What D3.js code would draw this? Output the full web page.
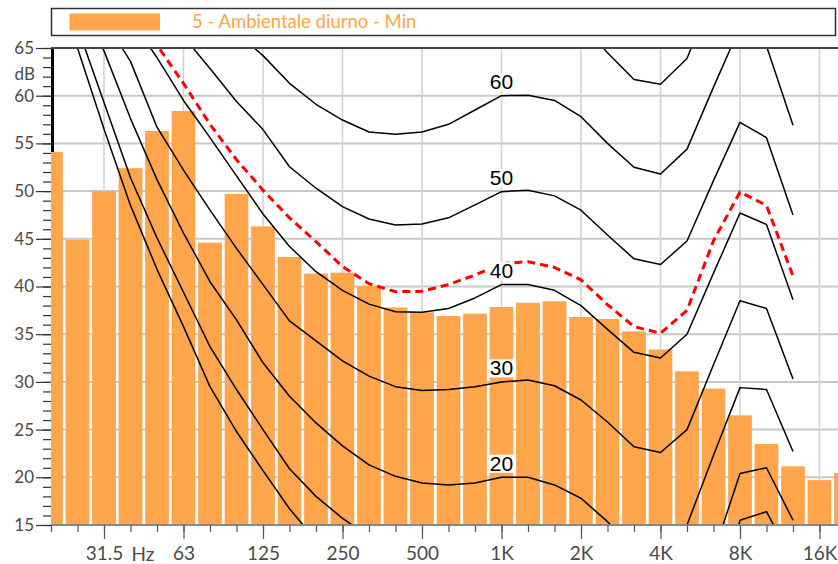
<!DOCTYPE html>
<html>
<head>
<meta charset="utf-8">
<script src="https://cdn.jsdelivr.net/npm/d3@7"></script>
<style>
  html, body { margin: 0; padding: 0; background: #fff; }
  svg text { font-family: Lato, "Open Sans", sans-serif; }
</style>
</head>
<body>
<svg id="chart" width="838" height="564"></svg>
<script>
// Third-octave band centres (nominal labels)
const bands = ["20","25","31.5","40","50","63","80","100","125","160","200","250","315","400","500","630","800",
  "1K","1.25K","1.6K","2K","2.5K","3.15K","4K","5K","6.3K","8K","10K","12.5K","16K","20K"];

// Octave bands that carry a label on the frequency axis
const octaveBands = ["31.5","63","125","250","500","1K","2K","4K","8K","16K"];

// Measured level per band, dB
const levels = [54.1,44.9,50.0,52.4,56.3,58.4,44.6,49.7,46.3,43.1,41.35,41.45,40.05,37.8,37.3,36.9,37.15,
  37.85,38.3,38.45,36.8,36.6,35.3,33.4,31.1,29.3,26.5,23.5,21.15,19.7,20.45];

// Equal-loudness contours, 20 Hz .. 12.5 kHz, dB
const curveBands = bands.slice(0, 29);
const phon0  = [73,65.0,56.5,48.5,41.8,35.8,29.5,24.8,20.7,16.7,13.4,10.8,8.5,6.5,5.0,4.0,3.5,3.5,4.0,3.0,1.0,-1.5,-3.5,-3.5,0,5.0,15.5,16.4,11.2];
const phon10 = [75,67.2,59.3,51.4,45.1,39.4,33.7,29.2,25.0,20.9,18.0,15.7,13.8,12.2,11.0,10.3,10.0,10.0,10.5,9.5,7.5,5.0,3.0,2.8,5.0,12.0,20.4,21.0,15.5];
const phon20 = [78,70.0,64.7,57.6,51.2,45.6,40.5,36.5,32.0,28.5,25.7,23.3,21.3,20.1,19.4,19.2,19.4,20.0,20.0,19.2,17.8,15.35,12.6,12.3,15.0,22.3,29.4,29.2,22.7];
const phon30 = [83,75,68.0,63.6,56.7,52.2,48.0,44.0,40.2,36.4,34.3,32.2,30.6,29.5,29.1,29.2,29.5,30.0,30.2,29.6,28.1,25.8,23.2,22.6,25.0,31.8,38.5,37.7,30.3];
const phon40 = [88,80,73,68,64.0,59.5,55.6,51.6,47.6,44.2,41.55,39.6,38.15,37.35,37.3,37.7,38.8,40.2,40.2,39.6,38.0,35.5,33.1,32.5,35.0,41.4,47.7,46.5,38.6];
const phon50 = [92,86,80,74,69.5,66.2,62.85,59.4,56.45,52.55,50.3,48.37,47.08,46.45,46.55,47.2,48.55,49.94,50.1,49.5,48.0,45.4,42.9,42.3,44.77,51.1,57.2,55.6,47.5];
const phon60 = [97,91,86,80,76,72,69,66.6,64.2,61.3,59.1,57.45,56.2,55.95,56.2,57.0,58.5,60.0,60.05,59.5,57.8,55.0,52.5,51.8,54.4,60.9,67.2,65.2,56.9];
const phon70 = [102,96,91,86,82,79,76.5,74.5,72.5,70.5,68.8,67.4,66.3,66.0,66.2,67.0,68.4,70.0,70.1,69.6,67.6,64.5,61.7,61.2,63.9,70.9,77,75,66.5];

// Loudness-level contour through the measured spectrum
const loudness = [85,80,75,70,65.3,61.3,57.0,53.3,50.1,47.2,44.7,42.1,40.3,39.45,39.5,40.2,41.2,42.4,42.6,42.0,40.7,38.1,35.8,35.1,37.5,44.8,49.9,48.5,41.1];

const contours = [
  {phon: 0,  values: phon0},
  {phon: 10, values: phon10},
  {phon: 20, values: phon20},
  {phon: 30, values: phon30},
  {phon: 40, values: phon40},
  {phon: 50, values: phon50},
  {phon: 60, values: phon60},
  {phon: 70, values: phon70}
];
const labelledPhons = [20, 30, 40, 50, 60];

const legendLabel = "5 - Ambientale diurno - Min";
const ORANGE = "#FFA54C";

(function draw() {
  const svg = d3.select("#chart");
  const pLeft = 51, pTop = 48, pBottom = 525, pRight = 838;

  const x = d3.scalePoint().domain(bands).range([51, 51 + 26.5 * 30]);
  const y = d3.scaleLinear().domain([15, 65]).range([pBottom, pTop]);
  const barW = x.step() * 0.894;

  svg.append("defs").append("clipPath").attr("id", "plot")
    .append("rect").attr("x", pLeft).attr("y", pTop).attr("width", 900 - pLeft).attr("height", pBottom - pTop);

  // Grid
  const grid = svg.append("g");
  grid.selectAll("line.h").data(d3.range(20, 65, 5)).join("line")
    .attr("x1", pLeft).attr("x2", pRight).attr("y1", d => y(d)).attr("y2", d => y(d))
    .attr("stroke", "#c9c9c9").attr("stroke-width", 2);
  grid.selectAll("line.v").data(octaveBands).join("line")
    .attr("x1", d => x(d)).attr("x2", d => x(d)).attr("y1", pTop).attr("y2", pBottom)
    .attr("stroke", "#d2d2d2").attr("stroke-width", 1.6);

  // Left frame (hidden behind the bars where they reach it)
  svg.append("line").attr("x1", pLeft + 1.5).attr("x2", pLeft + 1.5).attr("y1", pTop).attr("y2", pBottom)
    .attr("stroke", "#000").attr("stroke-width", 3);

  // Bars
  svg.append("g").attr("clip-path", "url(#plot)")
    .selectAll("rect").data(levels).join("rect")
    .attr("x", (d, i) => x(bands[i]) - barW / 2)
    .attr("width", barW)
    .attr("y", d => y(d))
    .attr("height", d => y(15) - y(d))
    .attr("fill", ORANGE);

  // Contours
  const line = d3.line().x((d, i) => x(curveBands[i])).y(d => y(d));
  const curves = svg.append("g").attr("clip-path", "url(#plot)");
  curves.selectAll("path.c").data(contours).join("path")
    .attr("d", d => line(d.values))
    .attr("fill", "none").attr("stroke", "#000").attr("stroke-width", 1.5)
    .attr("stroke-linejoin", "round");
  curves.append("path")
    .attr("d", line(loudness))
    .attr("fill", "none").attr("stroke", "#ff0000").attr("stroke-width", 3)
    .attr("stroke-dasharray", "8,5");

  // Contour labels at 1 kHz on a white ground
  const labels = svg.append("g");
  labelledPhons.forEach(p => {
    const c = contours.find(k => k.phon === p);
    const v = c.values[curveBands.indexOf("1K")];
    const g = labels.append("g");
    const t = g.append("text")
      .attr("x", x("1K")).attr("y", y(v) - 6.5)
      .attr("text-anchor", "middle")
      .style("font-family", "'Liberation Sans', Arial, sans-serif")
      .style("font-size", "21px").attr("fill", "#000")
      .text(p);
    const b = t.node().getBBox();
    g.insert("rect", "text").attr("x", b.x - 1).attr("y", b.y + 3).attr("width", b.width + 2).attr("height", b.height - 5)
      .attr("fill", "#fff");
  });

  // Top frame
  svg.append("line").attr("x1", pLeft).attr("x2", pRight).attr("y1", pTop).attr("y2", pTop)
    .attr("stroke", "#444").attr("stroke-width", 2);

  // Frequency axis
  const xMinor = d3.axisBottom(x).tickValues(bands).tickSize(7).tickFormat("");
  const gxm = svg.append("g").attr("transform", `translate(0,${pBottom})`).call(xMinor);
  gxm.select(".domain").attr("stroke", "#888").attr("stroke-width", 2).attr("d", `M${pLeft},0H${pRight}`);
  gxm.selectAll(".tick line").attr("stroke", "#555").attr("stroke-width", 1.2);

  const xMajor = d3.axisBottom(x).tickValues(octaveBands).tickSize(14).tickPadding(8);
  const gx = svg.append("g").attr("transform", `translate(0,${pBottom})`).call(xMajor);
  gx.select(".domain").remove();
  gx.selectAll(".tick line").attr("stroke", "#555").attr("stroke-width", 1.2);
  gx.selectAll(".tick text").attr("fill", "#4a4a4a").style("font-size", "19px")
    .style("font-family", "Lato, 'Open Sans', sans-serif");
  svg.append("text").attr("x", 143).attr("y", 561).attr("text-anchor", "middle")
    .attr("fill", "#4a4a4a").style("font-size", "19px").text("Hz");

  // Level axis
  const yMinor = d3.axisLeft(y).tickValues(d3.range(15, 66, 1)).tickSize(8).tickFormat("");
  const gym = svg.append("g").attr("transform", `translate(${pLeft},0)`).call(yMinor);
  gym.select(".domain").remove();
  gym.selectAll(".tick line").attr("stroke", "#333").attr("stroke-width", 1.2);

  const yMajor = d3.axisLeft(y).tickValues(d3.range(15, 66, 5)).tickSize(15).tickPadding(2);
  const gy = svg.append("g").attr("transform", `translate(${pLeft},0)`).call(yMajor);
  gy.select(".domain").remove();
  gy.selectAll(".tick line").attr("stroke", "#333").attr("stroke-width", 1.2);
  gy.selectAll(".tick text").attr("fill", "#4a4a4a").style("font-size", "17px")
    .style("font-family", "Lato, 'Open Sans', sans-serif");
  svg.append("text").attr("x", 35).attr("y", 80).attr("text-anchor", "end")
    .attr("fill", "#4a4a4a").style("font-size", "17px").text("dB");

  // Legend
  svg.append("rect").attr("x", 51.5).attr("y", 8.5).attr("width", 784).attr("height", 27)
    .attr("fill", "#fff").attr("stroke", "#333").attr("stroke-width", 1.5);
  svg.append("rect").attr("x", 69.5).attr("y", 13.5).attr("width", 90.5).attr("height", 17)
    .attr("fill", ORANGE);
  svg.append("text").attr("x", 192).attr("y", 28).attr("fill", ORANGE)
    .style("font-size", "18.5px").style("font-weight", "normal").text(legendLabel);
})();
</script>
</body>
</html>
